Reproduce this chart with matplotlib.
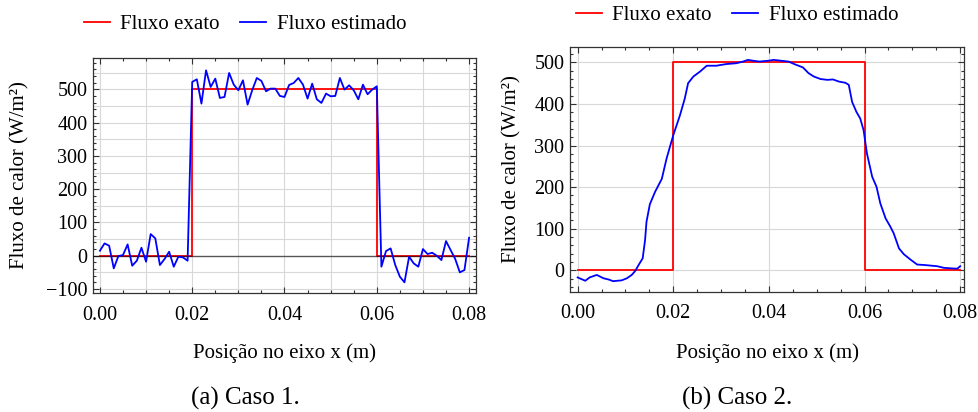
import numpy as np
import matplotlib.pyplot as plt
from matplotlib.lines import Line2D
from matplotlib.ticker import MultipleLocator, FormatStrFormatter

plt.rcParams['font.family'] = ['Liberation Serif', 'DejaVu Serif']
plt.rcParams['axes.unicode_minus'] = True

# exact flux (same for both cases)
x_exact = [0.0, 0.02, 0.02, 0.06, 0.06, 0.08]
q_exact = [0, 0, 500, 500, 0, 0]

# case 1 - estimated flux, one value every 0.001 m
x_est1 = [i * 0.001 for i in range(81)]
q_est1 = [15, 37, 30, -38, -1, 2, 34, -30, -15, 24,
          -18, 65, 52, -28, -10, 12, -33, -3, -5, -15,
          522, 530, 457, 557, 507, 532, 474, 477, 549, 514,
          497, 527, 454, 497, 534, 525, 494, 502, 502, 480,
          477, 513, 519, 534, 514, 472, 517, 470, 459, 487,
          479, 480, 534, 499, 512, 497, 470, 514, 485, 499,
          509, -33, 14, 22, -28, -63, -80, -3, -23, -33,
          20, 5, 9, 0, -13, 44, 17, -10, -50, -43, 54]

# case 2 - estimated flux (smooth)
x_est2 = [0.0, 0.0008, 0.0016, 0.0025, 0.004, 0.0054, 0.0065, 0.0074, 0.0092,
          0.0103, 0.0113, 0.012, 0.0127, 0.0136, 0.0141, 0.0144, 0.0151, 0.0162,
          0.0176, 0.0186, 0.020, 0.0214, 0.0224, 0.0231, 0.0242, 0.0256, 0.027,
          0.029, 0.0311, 0.0332, 0.0346, 0.0356, 0.0367, 0.038, 0.0399, 0.041,
          0.0441, 0.0455, 0.0471, 0.0483, 0.0494, 0.0508, 0.0522, 0.0534, 0.0546,
          0.056, 0.0567, 0.0574, 0.0583, 0.0591, 0.0598, 0.0605, 0.0616, 0.0625,
          0.0633, 0.0644, 0.0654, 0.0661, 0.0672, 0.0682, 0.0696, 0.071, 0.0724,
          0.0752, 0.0766, 0.078, 0.0794, 0.080]
q_est2 = [-17, -21, -25, -17, -11, -19, -22, -26, -24,
          -19, -11, -2, 12, 29, 73, 117, 159, 189,
          220, 269, 325, 373, 413, 450, 466, 478, 492,
          492, 496, 498, 502, 506, 504, 502, 504, 506,
          502, 495, 488, 474, 466, 460, 458, 459, 454,
          451, 446, 405, 381, 365, 337, 281, 225, 201,
          161, 125, 105, 89, 53, 39, 26, 14, 13,
          10, 6, 5, 4, 10]

red = '#ff0000'
blue = '#0000ff'
frame = '#333333'

fig = plt.figure(figsize=(9.79, 4.12), dpi=100)
ax1 = fig.add_axes([93 / 979, 1 - 293 / 412, 383 / 979, 235 / 412])
ax2 = fig.add_axes([570 / 979, 1 - 292 / 412, 394 / 979, 245 / 412])


def style(ax):
    ax.xaxis.set_major_locator(MultipleLocator(0.02))
    ax.xaxis.set_minor_locator(MultipleLocator(0.005))
    ax.yaxis.set_major_locator(MultipleLocator(100))
    ax.yaxis.set_minor_locator(MultipleLocator(20))
    ax.xaxis.set_major_formatter(FormatStrFormatter('%.2f'))
    ax.tick_params(which='both', direction='in', top=True, right=True,
                   color=frame, width=0.8, labelsize=14.5)
    ax.tick_params(which='major', length=4)
    ax.tick_params(which='minor', length=2.2)
    ax.tick_params(axis='x', pad=9)
    ax.tick_params(axis='y', pad=4)
    for s in ax.spines.values():
        s.set_color(frame)
        s.set_linewidth(0.9)
    ax.set_xlabel('Posição no eixo x (m)', fontsize=15)
    ax.set_ylabel('Fluxo de calor (W/m²)', fontsize=15)


# case 1
style(ax1)
for g in np.arange(-100, 600, 50):
    ax1.axhline(g, color='#d8d8d8', lw=0.8, zorder=0)
for g in np.arange(0, 0.081, 0.01):
    ax1.axvline(g, color='#d8d8d8', lw=0.8, zorder=0)
ax1.plot(x_exact, q_exact, color=red, lw=1.3, zorder=2)
ax1.axhline(0, color='black', lw=1.0, alpha=0.6, zorder=3)
ax1.plot(x_est1, q_est1, color=blue, lw=1.3, zorder=4)
ax1.set_xlim(-0.0015, 0.0815)
ax1.set_ylim(-112, 594)
ax1.yaxis.set_label_coords(-0.165, 0.5)
ax1.xaxis.set_label_coords(0.5, -0.215)

# case 2
style(ax2)
for g in np.arange(0, 600, 100):
    ax2.axhline(g, color='#d8d8d8', lw=0.8, zorder=0)
for g in np.arange(0, 0.081, 0.02):
    ax2.axvline(g, color='#d8d8d8', lw=0.8, zorder=0)
ax2.plot(x_exact, q_exact, color=red, lw=1.3, zorder=2)
ax2.plot(x_est2, q_est2, color=blue, lw=1.3, zorder=4)
ax2.set_xlim(-0.0016, 0.0808)
ax2.set_ylim(-52, 537)
ax2.yaxis.set_label_coords(-0.122, 0.5)
ax2.xaxis.set_label_coords(0.5, -0.21)

handles = [Line2D([], [], color=red, lw=1.3), Line2D([], [], color=blue, lw=1.3)]
labels = ['Fluxo exato', 'Fluxo estimado']
for cx, cy in [(245, 24), (737, 15)]:
    fig.legend(handles, labels, loc='center', bbox_to_anchor=(cx / 979, 1 - cy / 412),
               ncol=2, frameon=False, fontsize=15, handlelength=1.25,
               handletextpad=0.5, columnspacing=1.0, borderpad=0, borderaxespad=0)

fig.text(245 / 979, 1 - 405 / 412, '(a) Caso 1.', ha='center', va='baseline', fontsize=18)
fig.text(737.5 / 979, 1 - 405 / 412, '(b) Caso 2.', ha='center', va='baseline', fontsize=18)

fig.savefig('out.png', dpi=100)
